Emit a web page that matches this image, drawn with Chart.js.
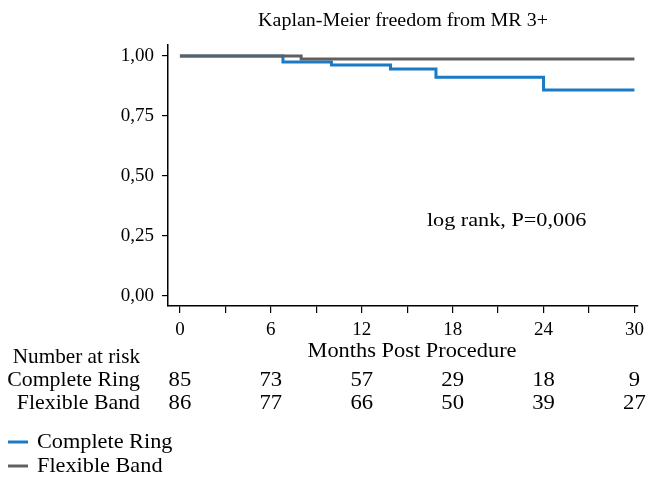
<!DOCTYPE html>
<html>
<head>
<meta charset="utf-8">
<script src="https://cdn.jsdelivr.net/npm/chart.js@4"></script>
<style>
html,body{margin:0;padding:0;background:#fff;}
#wrap{width:650px;height:477px;position:relative;}
</style>
</head>
<body>
<div id="wrap"><canvas id="c" width="650" height="477"></canvas></div>
<script>
// ---- data ----
const ringTimes = [0, 6.8, 10, 13.9, 16.9, 24, 30];
const ringSurv  = [1, 0.975, 0.9625, 0.946, 0.911, 0.858, 0.858];
const bandTimes = [0, 8, 30];
const bandSurv  = [1, 0.9875, 0.9875];
const xTicks = [0, 3, 6, 9, 12, 15, 18, 21, 24, 27, 30];
const xLabelTicks = [0, 6, 12, 18, 24, 30];
const yTicks = [0, 0.25, 0.5, 0.75, 1];
const riskMonths = [0, 6, 12, 18, 24, 30];
const riskRing = [85, 73, 57, 29, 18, 9];
const riskBand = [86, 77, 66, 50, 39, 27];
const seriesNames = ['Complete Ring', 'Flexible Band'];
const titleText = 'Kaplan-Meier freedom from MR 3+';
const xTitle = 'Months Post Procedure';
const riskTitle = 'Number at risk';
const annotation = 'log rank, P=0,006';

const BLUE = '#1a7bc4';
const GRAY = '#606060';
const FONT = "'Liberation Serif', 'Times New Roman', serif";

const toPts = (xs, ys) => xs.map((x, i) => ({x: x, y: ys[i]}));

function txt(ctx, s, x, y, align, size, sx) {
  ctx.save();
  ctx.font = size + 'px ' + FONT;
  ctx.textAlign = align;
  ctx.textBaseline = 'alphabetic';
  ctx.translate(x, y);
  ctx.scale(sx, 1);
  ctx.fillText(s, 0, 0);
  ctx.restore();
}

const overlay = {
  id: 'overlay',
  afterDraw(chart) {
    const ctx = chart.ctx;
    const xs = chart.scales.x, ys = chart.scales.y;
    const ca = chart.chartArea;
    ctx.save();
    ctx.fillStyle = '#000';
    // title
    txt(ctx, titleText, 403, 26, 'center', 18, 1.11);
    // annotation
    txt(ctx, annotation, xs.getPixelForValue(16.3), ys.getPixelForValue(0.29), 'left', 19, 1.17);
    // x title
    txt(ctx, xTitle, 412, 357, 'center', 20, 1.12);
    // risk table
    txt(ctx, riskTitle, 140, 363, 'right', 21, 1.01);
    txt(ctx, seriesNames[0], 140, 386, 'right', 21, 1.04);
    txt(ctx, seriesNames[1], 140, 409, 'right', 21, 1.04);
    riskMonths.forEach((m, i) => {
      const px = xs.getPixelForValue(m);
      txt(ctx, String(riskRing[i]), px, 386, 'center', 21, 1.08);
      txt(ctx, String(riskBand[i]), px, 409, 'center', 21, 1.08);
    });
    // legend
    const leg = [[BLUE, 442, 448], [GRAY, 466, 472]];
    leg.forEach((l, i) => {
      ctx.strokeStyle = l[0];
      ctx.lineWidth = 3;
      ctx.beginPath();
      ctx.moveTo(8, l[1]);
      ctx.lineTo(28, l[1]);
      ctx.stroke();
      ctx.fillStyle = '#000';
      txt(ctx, seriesNames[i], 37, l[2], 'left', 21, 1.06);
    });
    ctx.restore();
  }
};

new Chart(document.getElementById('c'), {
  type: 'line',
  data: {
    datasets: [
      {label: seriesNames[0], data: toPts(ringTimes, ringSurv), borderColor: BLUE, borderWidth: 3,
       stepped: true, pointRadius: 0, fill: false, order: 2},
      {label: seriesNames[1], data: toPts(bandTimes, bandSurv), borderColor: GRAY, borderWidth: 3,
       stepped: true, pointRadius: 0, fill: false, order: 1}
    ]
  },
  options: {
    responsive: false,
    animation: false,
    layout: {padding: {top: 45, right: 10, bottom: 0, left: 0}},
    plugins: {legend: {display: false}, title: {display: false}, tooltip: {enabled: false}},
    scales: {
      x: {
        type: 'linear', min: -0.788, max: 30.197,
        afterFit(s) { s.height = 171; },
        afterBuildTicks(s) { s.ticks = xTicks.map(v => ({value: v})); },
        grid: {display: true, drawOnChartArea: false, drawTicks: true, tickLength: 7, color: '#000', lineWidth: 1.2},
        border: {display: true, color: '#000', width: 1.5},
        ticks: {
          autoSkip: false, maxRotation: 0, padding: 6, color: '#000',
          font: {family: FONT, size: 19},
          callback: v => xLabelTicks.includes(v) ? String(v) : ''
        }
      },
      y: {
        type: 'linear', min: -0.0417, max: 1.0458,
        afterFit(s) { s.width = 168; },
        afterBuildTicks(s) { s.ticks = yTicks.map(v => ({value: v})); },
        grid: {display: true, drawOnChartArea: false, drawTicks: true, tickLength: 6, color: '#000', lineWidth: 1.2},
        border: {display: true, color: '#000', width: 1.5},
        ticks: {
          padding: 8, color: '#000',
          font: {family: FONT, size: 19},
          callback: v => v.toFixed(2).replace('.', ',')
        }
      }
    }
  },
  plugins: [overlay]
});
</script>
</body>
</html>
